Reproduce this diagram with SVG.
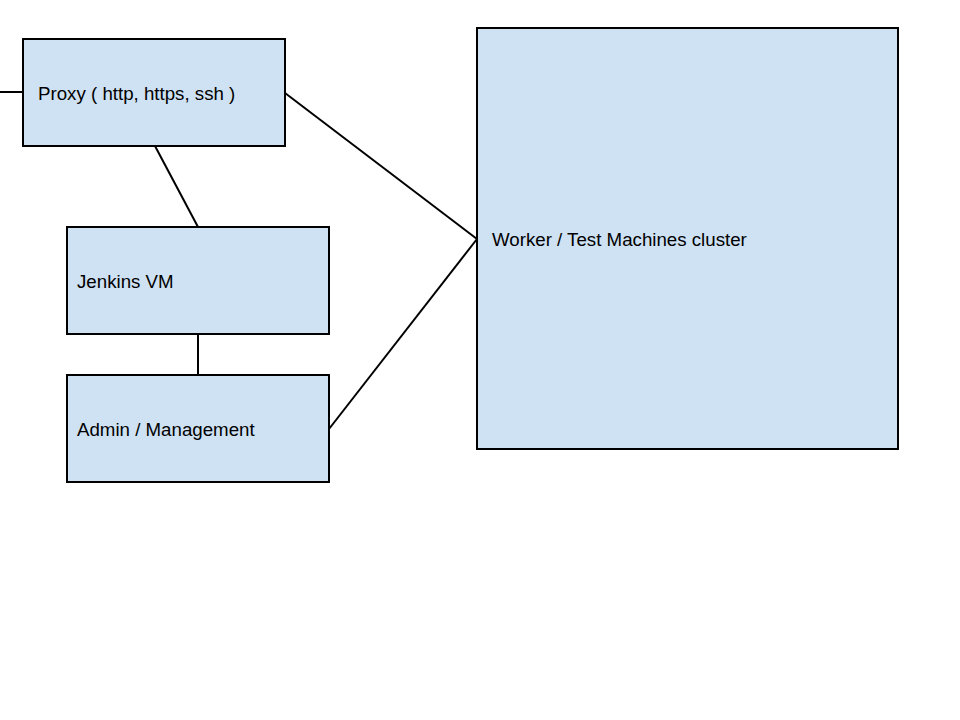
<svg xmlns="http://www.w3.org/2000/svg" width="960" height="720" viewBox="0 0 960 720">
<style>
.box{fill:#cfe2f3;stroke:#000;stroke-width:2}
.lbl{font-family:"Liberation Sans",Arial,sans-serif;font-size:18.7px;fill:#000}
.conn{stroke:#000;stroke-width:2;fill:none}
</style>
<rect width="960" height="720" fill="#fff"/>
<g id="connectors">
<line class="conn" x1="0" y1="92" x2="23" y2="92"/>
<line class="conn" x1="285" y1="93" x2="477" y2="239"/>
<line class="conn" x1="155" y1="146" x2="198" y2="227"/>
<line class="conn" x1="198" y1="334" x2="198" y2="375"/>
<line class="conn" x1="329" y1="429" x2="477" y2="239"/>
</g>
<g id="proxy">
<rect class="box" x="23" y="39" width="262" height="107"/>
<text class="lbl" x="38" y="100">Proxy ( http, https, ssh )</text>
</g>
<g id="jenkins">
<rect class="box" x="67" y="227" width="262" height="107"/>
<text class="lbl" x="77" y="288">Jenkins VM</text>
</g>
<g id="admin">
<rect class="box" x="67" y="375" width="262" height="107"/>
<text class="lbl" x="77" y="436">Admin / Management</text>
</g>
<g id="worker">
<rect class="box" x="477" y="28" width="421" height="421"/>
<text class="lbl" x="492" y="246">Worker / Test Machines cluster</text>
</g>
</svg>
